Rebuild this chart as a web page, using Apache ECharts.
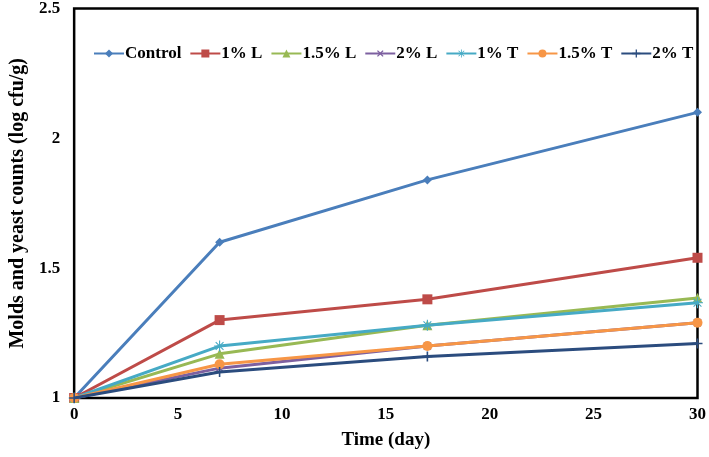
<!DOCTYPE html>
<html>
<head>
<meta charset="utf-8">
<script src="https://cdn.jsdelivr.net/npm/echarts@6/dist/echarts.min.js"></script>
<style>html,body{margin:0;padding:0;background:#fff;}#c{width:709px;height:457px;}</style>
</head>
<body>
<div id="c"></div>
<script>
const days = [0, 7, 17, 30];
const seriesNames = ['Control', '1% L', '1.5% L', '2% L', '1% T', '1.5% T', '2% T'];
const control = [1, 1.60, 1.84, 2.10];
const l1 = [1, 1.30, 1.38, 1.54];
const l15 = [1, 1.17, 1.28, 1.385];
const l2 = [1, 1.115, 1.20, 1.29];
const t1 = [1, 1.20, 1.28, 1.367];
const t15 = [1, 1.13, 1.20, 1.29];
const t2 = [1, 1.10, 1.16, 1.21];
const xTicks = [0, 5, 10, 15, 20, 25, 30];
const yTicks = [1, 1.5, 2, 2.5];

const allValues = [control, l1, l15, l2, t1, t15, t2];
const colors = ['#4A7EBB', '#BE4B48', '#98B954', '#7D60A0', '#46AAC5', '#F79646', '#2B4C7E'];
const plusPath = 'path://M4.2,0H5.8V4.2H10V5.8H5.8V10H4.2V5.8H0V4.2H4.2Z';
const starPath = 'path://M4.5,0H5.5V10H4.5Z M0,4.5H10V5.5H0Z M1.1,1.8L1.8,1.1L8.9,8.2L8.2,8.9Z M8.2,1.1L8.9,1.8L1.8,8.9L1.1,8.2Z';
const symbols = ['diamond', 'rect', 'triangle', plusPath, starPath, 'circle', plusPath];
const rotates = [0, 0, 0, 45, 0, 0, 0];
const sizes = [9, 10, 10, 10, 11, 10, 10];
const font = '"Liberation Serif", "Times New Roman", serif';

const chart = echarts.init(document.getElementById('c'));
chart.setOption({
  animation: false,
  backgroundColor: '#fff',
  color: colors,
  grid: { left: 70, right: 9, top: 6, bottom: 59, show: true, borderColor: '#000', borderWidth: 2.5, backgroundColor: 'transparent' },
  legend: {
    top: 40, left: 88,
    itemWidth: 30, itemHeight: 10, itemGap: 8,
    textStyle: { fontFamily: font, fontWeight: 'bold', fontSize: 17, color: '#000', padding: [0, 0, 0, -4] },
    data: seriesNames
  },
  xAxis: {
    type: 'value', min: xTicks[0], max: xTicks[xTicks.length - 1], interval: 5,
    name: 'Time (day)', nameLocation: 'middle', nameGap: 33,
    nameTextStyle: { fontFamily: font, fontWeight: 'bold', fontSize: 19, color: '#000' },
    axisLine: { show: false }, axisTick: { show: false }, splitLine: { show: false },
    axisLabel: { fontFamily: font, fontWeight: 'bold', fontSize: 17, color: '#000', margin: 8 }
  },
  yAxis: {
    type: 'value', min: yTicks[0], max: yTicks[yTicks.length - 1], interval: 0.5,
    name: 'Molds and yeast counts (log cfu/g)', nameLocation: 'middle', nameGap: 35,
    nameTextStyle: { fontFamily: font, fontWeight: 'bold', fontSize: 20, color: '#000' },
    axisLine: { show: false }, axisTick: { show: false }, splitLine: { show: false },
    axisLabel: { fontFamily: font, fontWeight: 'bold', fontSize: 17, color: '#000', margin: 14 }
  },
  series: seriesNames.map((n, i) => ({
    name: n, type: 'line',
    data: days.map((d, j) => [d, allValues[i][j]]),
    symbol: symbols[i], symbolSize: sizes[i], symbolRotate: rotates[i],
    showAllSymbol: true,
    lineStyle: { width: 3, color: colors[i] },
    itemStyle: { color: colors[i] },
    z: 2 + i
  }))
});
</script>
</body>
</html>
